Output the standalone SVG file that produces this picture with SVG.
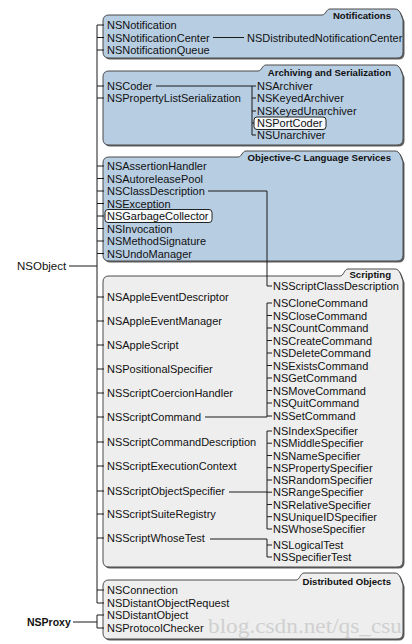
<svg xmlns="http://www.w3.org/2000/svg" width="412" height="644" viewBox="0 0 412 644">
<style>
.t{font-family:"Liberation Sans",Arial,sans-serif;font-size:11px;fill:#111}
.h{font-family:"Liberation Sans",Arial,sans-serif;font-size:9.6px;font-weight:bold;fill:#111;text-anchor:end}
.blue{fill:#b7cde2;stroke:#4a4a4a;stroke-width:1}
.gray{fill:#eeeeee;stroke:#4a4a4a;stroke-width:1}
.sh{fill:#5e5e5e;stroke:none}
.box{fill:#f7f9fb;stroke:#222;stroke-width:1}
.c{stroke:#1a1a1a;stroke-width:1;fill:none}
.wm{font-family:"Liberation Serif",serif;font-size:20px;fill:#c4c4c4;opacity:0.7}
</style>
<rect width="412" height="644" fill="#ffffff"/>

<g id="panel-notifications">
<path class="sh" transform="translate(1.5,1.5)" d="M109,15 H322 C326,15 326,9 330,9 H395 C400,9 401,15 403,20 V52 Q403,58 397,58 H109 Q103,58 103,52 V21 Q103,15 109,15 Z"/>
<path class="blue" d="M109,15 H322 C326,15 326,9 330,9 H395 C400,9 401,15 403,20 V52 Q403,58 397,58 H109 Q103,58 103,52 V21 Q103,15 109,15 Z"/>
<text class="h" x="391" y="18.5">Notifications</text>
</g>
<g id="panel-archiving">
<path class="sh" transform="translate(1.5,1.5)" d="M109,71 H258 C262,71 262,65 266,65 H395 C400,65 401,71 403,76 V139 Q403,145 397,145 H109 Q103,145 103,139 V77 Q103,71 109,71 Z"/>
<path class="blue" d="M109,71 H258 C262,71 262,65 266,65 H395 C400,65 401,71 403,76 V139 Q403,145 397,145 H109 Q103,145 103,139 V77 Q103,71 109,71 Z"/>
<text class="h" x="391" y="75.5">Archiving and Serialization</text>
</g>
<g id="panel-objc">
<path class="sh" transform="translate(1.5,1.5)" d="M109,157 H238 C242,157 242,151 246,151 H395 C400,151 401,157 403,162 V255 Q403,261 397,261 H109 Q103,261 103,255 V163 Q103,157 109,157 Z"/>
<path class="blue" d="M109,157 H238 C242,157 242,151 246,151 H395 C400,151 401,157 403,162 V255 Q403,261 397,261 H109 Q103,261 103,255 V163 Q103,157 109,157 Z"/>
<text class="h" x="391" y="160.5">Objective-C Language Services</text>
</g>
<g id="panel-scripting">
<path class="sh" transform="translate(1.5,1.5)" d="M109,276 H340 C344,276 344,269 348,269 H395 C400,269 401,276 403,281 V561 Q403,567 397,567 H109 Q103,567 103,561 V282 Q103,276 109,276 Z"/>
<path class="gray" d="M109,276 H340 C344,276 344,269 348,269 H395 C400,269 401,276 403,281 V561 Q403,567 397,567 H109 Q103,567 103,561 V282 Q103,276 109,276 Z"/>
<text class="h" x="391" y="277.5">Scripting</text>
</g>
<g id="panel-distributed">
<path class="sh" transform="translate(1.5,1.5)" d="M109,580 H296 C300,580 300,573 304,573 H395 C400,573 401,580 403,585 V633 Q403,639 397,639 H109 Q103,639 103,633 V586 Q103,580 109,580 Z"/>
<path class="gray" d="M109,580 H296 C300,580 300,573 304,573 H395 C400,573 401,580 403,585 V633 Q403,639 397,639 H109 Q103,639 103,633 V586 Q103,580 109,580 Z"/>
<text class="h" x="391" y="584.5">Distributed Objects</text>
</g>

<g id="connectors">
<line class="c" x1="69" y1="266" x2="97" y2="266"/>
<line class="c" x1="97" y1="25" x2="97" y2="603"/>
<path class="c" d="M97,25H104 M97,37.5H104 M97,50H104 M97,86H104 M97,98H104 M97,166H104 M97,178.5H104 M97,191H104 M97,203.5H104 M97,216H104 M97,228.5H104 M97,241H104 M97,253.5H104 M97,297H104 M97,321H104 M97,345H104 M97,369H104 M97,393H104 M97,417H104 M97,442H104 M97,466H104 M97,491H104 M97,514H104 M97,538H104 M97,590H104 M97,603H104"/>
<line class="c" x1="213" y1="37.5" x2="244" y2="37.5"/>
<path class="c" d="M156,86H252 M252,86V135 M252,86H256 M252,98H256 M252,111H256 M252,123H254 M252,135H256"/>
<path class="c" d="M208,191H267V286H272"/>
<path class="c" d="M205,417H267 M267,303V417 M267,303H272 M267,315.5H272 M267,328H272 M267,340.5H272 M267,353H272 M267,365.5H272 M267,378H272 M267,390.5H272 M267,403H272 M267,416H272"/>
<path class="c" d="M229,492H267 M267,431V529 M267,431H272 M267,443.2H272 M267,455.5H272 M267,467.7H272 M267,480H272 M267,492.2H272 M267,504.5H272 M267,516.7H272 M267,529H272"/>
<path class="c" d="M210,539H267V557H272 M267,545H272"/>
<path class="c" d="M73,622H97 M97,615V628 M97,615H104 M97,628H104"/>
</g>

<g id="n-NSObject"><text class="t" x="17" y="270" style="font-size:11.5px">NSObject</text></g>
<g id="n-NSProxy"><text class="t" x="27" y="626" style="font-size:10.5px;font-weight:bold">NSProxy</text></g>

<g id="n-NSNotification"><text class="t" x="107" y="29">NSNotification</text></g>
<g id="n-NSNotificationCenter"><text class="t" x="107" y="41.5">NSNotificationCenter</text></g>
<g id="n-NSNotificationQueue"><text class="t" x="107" y="54">NSNotificationQueue</text></g>
<g id="n-NSDistributedNotificationCenter"><text class="t" x="247" y="41.5">NSDistributedNotificationCenter</text></g>

<g id="n-NSCoder"><text class="t" x="107" y="90">NSCoder</text></g>
<g id="n-NSPropertyListSerialization"><text class="t" x="107" y="102">NSPropertyListSerialization</text></g>
<g id="n-NSArchiver"><text class="t" x="257" y="90">NSArchiver</text></g>
<g id="n-NSKeyedArchiver"><text class="t" x="257" y="102">NSKeyedArchiver</text></g>
<g id="n-NSKeyedUnarchiver"><text class="t" x="257" y="115">NSKeyedUnarchiver</text></g>
<g id="n-NSPortCoder"><rect class="box" x="254" y="117" width="72" height="12.5" rx="3"/><text class="t" x="257" y="127">NSPortCoder</text></g>
<g id="n-NSUnarchiver"><text class="t" x="257" y="139">NSUnarchiver</text></g>

<g id="n-NSAssertionHandler"><text class="t" x="107" y="170">NSAssertionHandler</text></g>
<g id="n-NSAutoreleasePool"><text class="t" x="107" y="182.5">NSAutoreleasePool</text></g>
<g id="n-NSClassDescription"><text class="t" x="107" y="195">NSClassDescription</text></g>
<g id="n-NSException"><text class="t" x="107" y="207.5">NSException</text></g>
<g id="n-NSGarbageCollector"><rect class="box" x="105" y="209.5" width="107" height="13" rx="3"/><text class="t" x="107" y="220">NSGarbageCollector</text></g>
<g id="n-NSInvocation"><text class="t" x="107" y="232.5">NSInvocation</text></g>
<g id="n-NSMethodSignature"><text class="t" x="107" y="245">NSMethodSignature</text></g>
<g id="n-NSUndoManager"><text class="t" x="107" y="257.5">NSUndoManager</text></g>

<g id="n-NSAppleEventDescriptor"><text class="t" x="107" y="301">NSAppleEventDescriptor</text></g>
<g id="n-NSAppleEventManager"><text class="t" x="107" y="325">NSAppleEventManager</text></g>
<g id="n-NSAppleScript"><text class="t" x="107" y="349">NSAppleScript</text></g>
<g id="n-NSPositionalSpecifier"><text class="t" x="107" y="373">NSPositionalSpecifier</text></g>
<g id="n-NSScriptCoercionHandler"><text class="t" x="107" y="397">NSScriptCoercionHandler</text></g>
<g id="n-NSScriptCommand"><text class="t" x="107" y="421">NSScriptCommand</text></g>
<g id="n-NSScriptCommandDescription"><text class="t" x="107" y="446">NSScriptCommandDescription</text></g>
<g id="n-NSScriptExecutionContext"><text class="t" x="107" y="470">NSScriptExecutionContext</text></g>
<g id="n-NSScriptObjectSpecifier"><text class="t" x="107" y="495">NSScriptObjectSpecifier</text></g>
<g id="n-NSScriptSuiteRegistry"><text class="t" x="107" y="518">NSScriptSuiteRegistry</text></g>
<g id="n-NSScriptWhoseTest"><text class="t" x="107" y="542">NSScriptWhoseTest</text></g>

<g id="n-NSScriptClassDescription"><text class="t" x="273" y="290">NSScriptClassDescription</text></g>
<g id="n-NSCloneCommand"><text class="t" x="273" y="307">NSCloneCommand</text></g>
<g id="n-NSCloseCommand"><text class="t" x="273" y="319.5">NSCloseCommand</text></g>
<g id="n-NSCountCommand"><text class="t" x="273" y="332">NSCountCommand</text></g>
<g id="n-NSCreateCommand"><text class="t" x="273" y="344.5">NSCreateCommand</text></g>
<g id="n-NSDeleteCommand"><text class="t" x="273" y="357">NSDeleteCommand</text></g>
<g id="n-NSExistsCommand"><text class="t" x="273" y="369.5">NSExistsCommand</text></g>
<g id="n-NSGetCommand"><text class="t" x="273" y="382">NSGetCommand</text></g>
<g id="n-NSMoveCommand"><text class="t" x="273" y="394.5">NSMoveCommand</text></g>
<g id="n-NSQuitCommand"><text class="t" x="273" y="407">NSQuitCommand</text></g>
<g id="n-NSSetCommand"><text class="t" x="273" y="420">NSSetCommand</text></g>

<g id="n-NSIndexSpecifier"><text class="t" x="273" y="435">NSIndexSpecifier</text></g>
<g id="n-NSMiddleSpecifier"><text class="t" x="273" y="447.2">NSMiddleSpecifier</text></g>
<g id="n-NSNameSpecifier"><text class="t" x="273" y="459.5">NSNameSpecifier</text></g>
<g id="n-NSPropertySpecifier"><text class="t" x="273" y="471.7">NSPropertySpecifier</text></g>
<g id="n-NSRandomSpecifier"><text class="t" x="273" y="484">NSRandomSpecifier</text></g>
<g id="n-NSRangeSpecifier"><text class="t" x="273" y="496.2">NSRangeSpecifier</text></g>
<g id="n-NSRelativeSpecifier"><text class="t" x="273" y="508.5">NSRelativeSpecifier</text></g>
<g id="n-NSUniqueIDSpecifier"><text class="t" x="273" y="520.7">NSUniqueIDSpecifier</text></g>
<g id="n-NSWhoseSpecifier"><text class="t" x="273" y="533">NSWhoseSpecifier</text></g>
<g id="n-NSLogicalTest"><text class="t" x="273" y="549">NSLogicalTest</text></g>
<g id="n-NSSpecifierTest"><text class="t" x="273" y="561">NSSpecifierTest</text></g>

<g id="n-NSConnection"><text class="t" x="107" y="594">NSConnection</text></g>
<g id="n-NSDistantObjectRequest"><text class="t" x="107" y="607">NSDistantObjectRequest</text></g>
<g id="n-NSDistantObject"><text class="t" x="107" y="619">NSDistantObject</text></g>
<g id="n-NSProtocolChecker"><text class="t" x="107" y="632">NSProtocolChecker</text></g>

<text class="wm" x="208" y="633" textLength="194" lengthAdjust="spacingAndGlyphs">blog.csdn.net/qs_csu</text>
</svg>
